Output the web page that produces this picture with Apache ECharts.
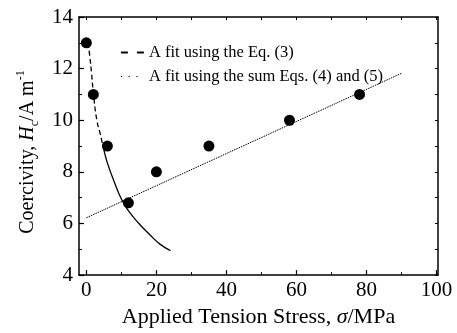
<!DOCTYPE html>
<html>
<head>
<meta charset="utf-8">
<script src="https://cdn.jsdelivr.net/npm/echarts@6/dist/echarts.min.js"></script>
<style>
  html, body { margin: 0; padding: 0; background: #fff; }
  #chart { width: 457px; height: 333px; }
</style>
</head>
<body>
<div id="chart"></div>
<script>
// measured points (stress in MPa, coercivity in A/m)
const stress = [0, 2, 6, 12, 20, 35, 58, 78];
const coercivity = [13, 11, 9, 6.8, 8, 9, 10, 11];

// fit by Eq. (3): dashed part, then solid continuation
const eq3X = [0.5, 1, 1.5, 2, 3, 4, 5];
const eq3Y = [13.0, 12.45, 11.8, 11.05, 10.0, 9.45, 8.85];
const eq3ExtX = [5, 6, 8, 10, 12, 15, 18, 21, 24];
const eq3ExtY = [8.85, 8.35, 7.6, 6.95, 6.5, 6.0, 5.58, 5.2, 4.95];

// fit by the sum of Eqs. (4) and (5)
const sumX = [0, 90];
const sumY = [6.22, 11.82];

const xTicks = [0, 20, 40, 60, 80, 100];
const xMinorTicks = [10, 30, 50, 70, 90];
const xTopTicks = [0, 10, 20, 30, 40, 50, 60, 70, 80, 90, 100];

const FONT = 'Liberation Serif';
const zip = (xs, ys) => xs.map((x, i) => [x, ys[i]]);

const chart = echarts.init(document.getElementById('chart'));

const axisLine = { show: true, onZero: false, lineStyle: { color: '#000', width: 1.5 } };
const noSymbol = { color: 'rgba(0,0,0,0)', borderWidth: 0 };

const option = {
  animation: false,
  backgroundColor: '#fff',
  textStyle: { fontFamily: FONT, color: '#000' },
  grid: { left: 79, top: 17, right: 19, bottom: 55, containLabel: false },
  legend: {
    orient: 'vertical',
    left: 115,
    top: 39,
    itemWidth: 23,
    itemHeight: 14,
    itemGap: 7,
    textStyle: { fontFamily: FONT, fontSize: 16.5, color: '#000' },
    data: [
      { name: 'A fit using the Eq. (3)', itemStyle: noSymbol, lineStyle: { type: [7, 9], width: 1.8, color: '#000' } },
      { name: 'A fit using the sum Eqs. (4) and (5)', itemStyle: noSymbol, lineStyle: { type: [1.2, 6.5], width: 1.2, color: '#000' } }
    ]
  },
  xAxis: [
    {
      type: 'value',
      min: -2.1,
      max: 100.4,
      position: 'bottom',
      axisLine: axisLine,
      splitLine: { show: false },
      axisTick: { inside: true, length: 5, customValues: xTicks, lineStyle: { color: '#000', width: 1.2 } },
      axisLabel: { customValues: xTicks, fontFamily: FONT, fontSize: 21, color: '#000', margin: 5 },
      name: '{n|Applied Tension Stress, }{i|σ}{n|/MPa}',
      nameLocation: 'middle',
      nameGap: 28,
      nameTextStyle: {
        rich: {
          n: { fontFamily: FONT, fontSize: 22, color: '#000' },
          i: { fontFamily: FONT, fontSize: 22, fontStyle: 'italic', color: '#000' }
        }
      }
    },
    {
      // minor ticks on the bottom
      type: 'value',
      min: -2.1,
      max: 100.4,
      position: 'bottom',
      axisLine: { show: false, onZero: false },
      splitLine: { show: false },
      axisTick: { inside: true, length: 3, customValues: xMinorTicks, lineStyle: { color: '#000', width: 1 } },
      axisLabel: { show: false }
    },
    {
      // top frame
      type: 'value',
      min: -2.1,
      max: 100.4,
      position: 'top',
      axisLine: axisLine,
      splitLine: { show: false },
      axisTick: { inside: true, length: 3, customValues: xTopTicks, lineStyle: { color: '#000', width: 1 } },
      axisLabel: { show: false }
    }
  ],
  yAxis: [
    {
      type: 'value',
      min: 4,
      max: 14,
      interval: 2,
      position: 'left',
      axisLine: axisLine,
      splitLine: { show: false },
      axisTick: { inside: true, length: 5, lineStyle: { color: '#000', width: 1.2 } },
      minorTick: { show: true, splitNumber: 2, length: 3, lineStyle: { color: '#000', width: 1 } },
      minorSplitLine: { show: false },
      axisLabel: { fontFamily: FONT, fontSize: 21, color: '#000', margin: 6 },
      name: '{n|Coercivity, }{i|H}{sub|c}{n|/A m}{sup|-1}',
      nameLocation: 'middle',
      nameGap: 37,
      nameRotate: 90,
      nameTextStyle: {
        padding: [0, 12, 0, 0],
        rich: {
          n: { fontFamily: FONT, fontSize: 20, lineHeight: 26, color: '#000' },
          i: { fontFamily: FONT, fontSize: 20, lineHeight: 26, fontStyle: 'italic', color: '#000' },
          sub: { fontFamily: FONT, fontSize: 12, lineHeight: 12, verticalAlign: 'bottom', color: '#000' },
          sup: { fontFamily: FONT, fontSize: 12, lineHeight: 12, verticalAlign: 'top', color: '#000' }
        }
      }
    },
    {
      // right frame
      type: 'value',
      min: 4,
      max: 14,
      interval: 1,
      position: 'right',
      axisLine: axisLine,
      splitLine: { show: false },
      axisTick: { inside: true, length: 3, lineStyle: { color: '#000', width: 1 } },
      axisLabel: { show: false }
    }
  ],
  series: [
    {
      name: 'A fit using the Eq. (3)',
      type: 'line',
      data: zip(eq3X, eq3Y),
      smooth: 0.5,
      symbol: 'none',
      itemStyle: { color: '#000' },
      lineStyle: { color: '#000', width: 1.3, type: [5, 3] },
      z: 2
    },
    {
      name: 'Eq3 extension',
      type: 'line',
      data: zip(eq3ExtX, eq3ExtY),
      smooth: 0.5,
      symbol: 'none',
      itemStyle: { color: '#000' },
      lineStyle: { color: '#000', width: 1.3, type: 'solid' },
      z: 2
    },
    {
      name: 'A fit using the sum Eqs. (4) and (5)',
      type: 'line',
      data: zip(sumX, sumY),
      symbol: 'none',
      itemStyle: { color: '#000' },
      lineStyle: { color: '#000', width: 1, type: [1.5, 1] },
      z: 2
    },
    {
      name: 'measured',
      type: 'scatter',
      data: zip(stress, coercivity),
      symbol: 'circle',
      symbolSize: 11,
      itemStyle: { color: '#000', opacity: 1 },
      z: 3
    }
  ]
};

chart.setOption(option);
</script>
</body>
</html>
